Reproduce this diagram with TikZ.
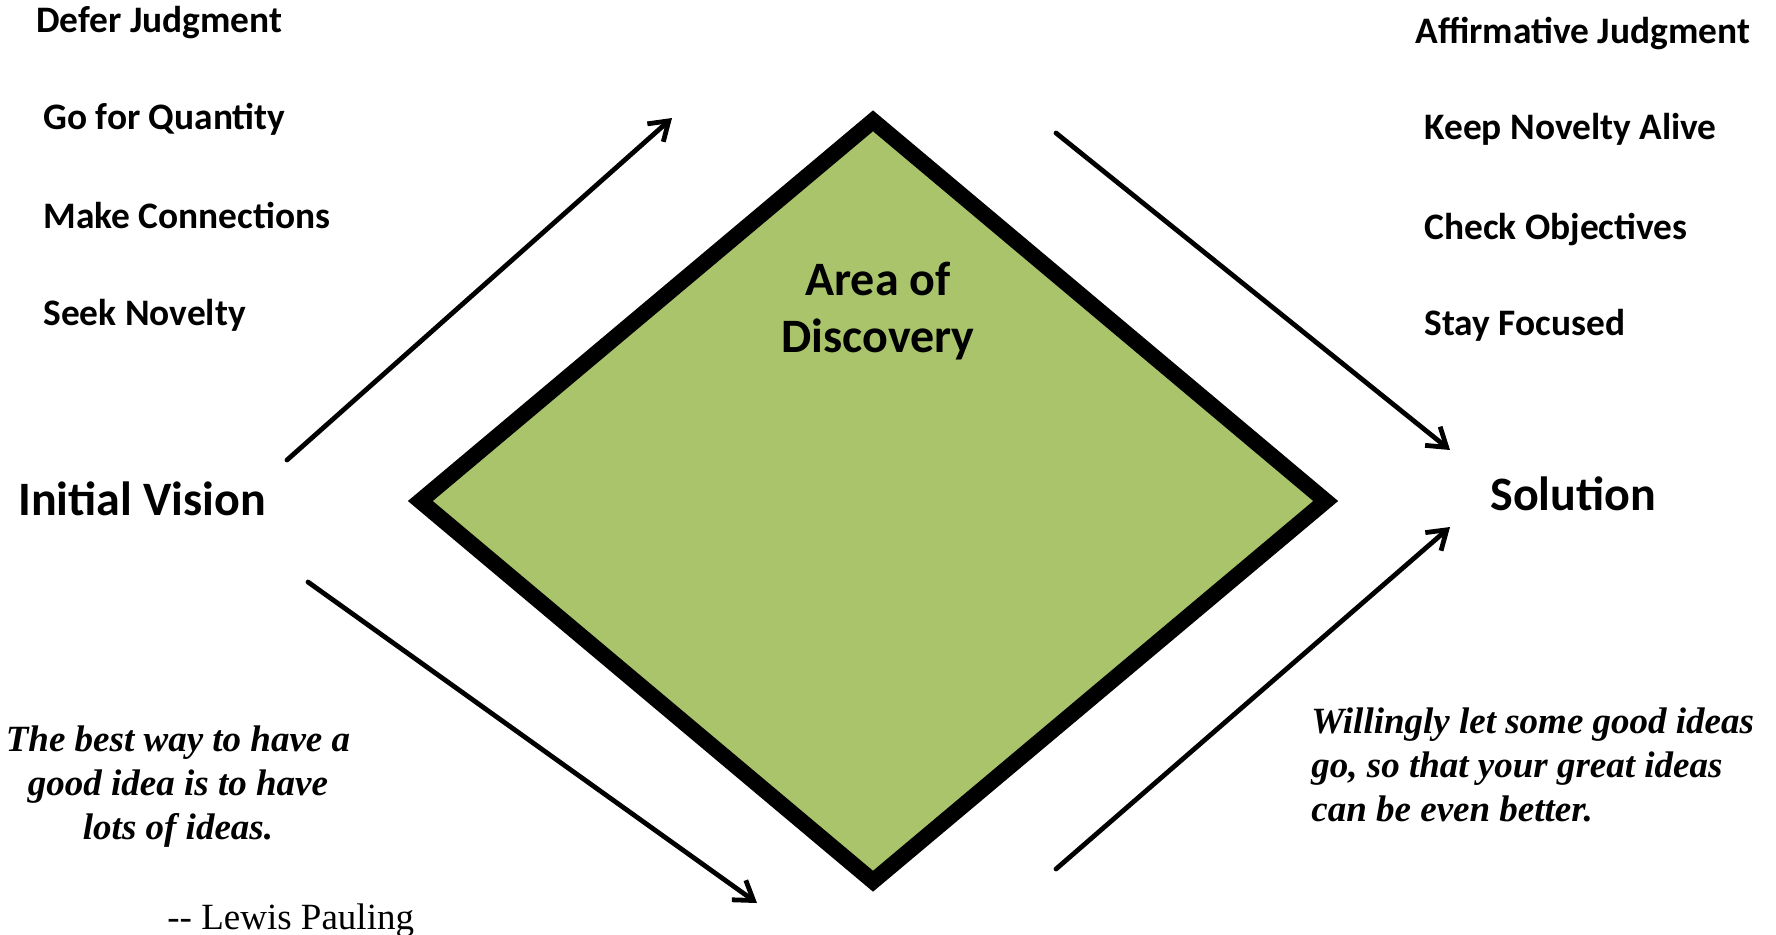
\documentclass[tikz,border=0pt]{standalone}
\usepackage{fontspec}
\newfontfamily\calibri{Carlito}
\newfontfamily\timesfont{Liberation Serif}
\usetikzlibrary{arrows.meta, shapes.geometric, positioning}
\definecolor{leaf}{RGB}{170,196,108}

\begin{document}
\begin{tikzpicture}[x=0.5pt, y=-0.5pt,
        rule/.style={anchor=base west, inner sep=0pt, font=\calibri\bfseries\fontsize{18.7}{22}\selectfont},
        big/.style={anchor=base west, inner sep=0pt, font=\calibri\bfseries\fontsize{24}{28.5}\selectfont},
        quote/.style={inner sep=0pt, font=\timesfont\bfseries\itshape\fontsize{18.5}{21.8}\selectfont},
        arrow/.style={-{Straight Barb[length=9pt, width=12pt]}, line width=2.4pt, line cap=round, line join=round}
    ]
    \useasboundingbox (0,0) rectangle (1776,934);

    % Losango central
    \node (area) [diamond, draw, fill=leaf, line width=8pt, inner sep=0pt, minimum width=456pt, minimum height=383.5pt] at (873,501) {};
    \node (arealab) [big, anchor=base, align=center] at (878,352) {Area of\\Discovery};

    % Extremos
    \node (init) [big] at (18,515)   {Initial Vision};
    \node (sol)  [big] at (1490,510) {Solution};

    % Regras da divergência
    \node (defer) [rule] at (36,32)   {Defer Judgment};
    \node (qty)   [rule] at (43,129)  {Go for Quantity};
    \node (conn)  [rule] at (43,228)  {Make Connections};
    \node (nov)   [rule] at (43,325)  {Seek Novelty};

    % Regras da convergência
    \node (affirm) [rule] at (1415,43)  {Affirmative Judgment};
    \node (alive)  [rule] at (1424,139) {Keep Novelty Alive};
    \node (check)  [rule] at (1424,239) {Check Objectives};
    \node (focus)  [rule] at (1424,335) {Stay Focused};

    % Citações
    \node (quoteL) [quote, align=center, anchor=base] at (178,839) {The best way to have a\\good idea is to have\\lots of ideas.};
    \node (author) [anchor=base west, inner sep=0pt, font=\timesfont\fontsize{18.5}{22}\selectfont] at (167,929) {-- Lewis Pauling};
    \node (quoteR) [quote, align=left, anchor=base west, font=\timesfont\bfseries\itshape\fontsize{18.5}{22}\selectfont] at (1311,821) {Willingly let some good ideas\\go, so that your great ideas\\can be even better.};

    % Setas
    \coordinate (ulS) at (287,460);  \coordinate (ulE) at (672,118);
    \coordinate (llS) at (308,582);  \coordinate (llE) at (757,903);
    \coordinate (urS) at (1056,133); \coordinate (urE) at (1450,450);
    \coordinate (lrS) at (1056,869); \coordinate (lrE) at (1450,527);
    \draw [arrow] (ulS) -- (ulE);
    \draw [arrow] (llS) -- (llE);
    \draw [arrow] (urS) -- (urE);
    \draw [arrow] (lrS) -- (lrE);

\end{tikzpicture}
\end{document}
